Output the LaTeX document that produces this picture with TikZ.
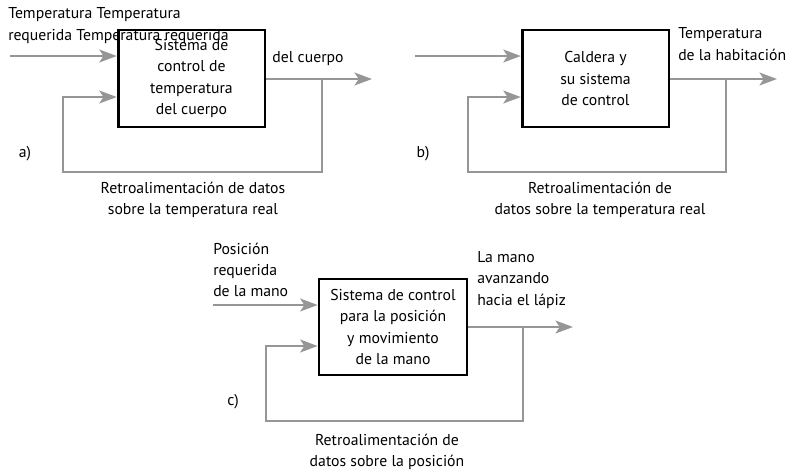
\documentclass[tikz,border=0pt]{standalone}
\usepackage{fontspec}
\setmainfont{PT Sans}
\usetikzlibrary{arrows.meta, positioning}
\definecolor{FlowGray}{RGB}{150,150,150}

\begin{document}
\begin{tikzpicture}[
  x=0.75pt, y=-0.75pt,
  every node/.style={align=center, font=\fontsize{11.8}{16}\selectfont},
  block/.style={draw=black, line width=2pt, minimum width=110pt, minimum height=72.75pt, inner sep=0pt},
  flow/.style={draw=FlowGray, line width=2.2pt, -{Stealth[length=13pt, width=9.5pt, inset=3pt]}},
  lbl/.style={anchor=west, align=left, inner sep=0pt}
  ]
\useasboundingbox (0,0) rectangle (787,472);

% a) Body temperature
\node[block] (sysa) at (191.5,78.5) {Sistema de\\control de\\temperatura\\del cuerpo};
\coordinate (a-in) at (10,56);
\coordinate (a-out) at (372,79);
\coordinate (a-tap) at (322,79);
\coordinate (a-fb) at (63,97);
\draw[flow] (a-in) -- (a-in -| sysa.west);
\draw[flow] (sysa.east |- a-out) -- (a-out);
\draw[flow] (a-tap) -- ++(0,93) -| (a-fb) -- (a-fb -| sysa.west);
\node[lbl] (a-req) at (8,25.5) {Temperatura Temperatura\\requerida Temperatura requerida};
\node (a-body) at (308,59) {del cuerpo};
\node (a-tag) at (25,154) {a)};
\node (a-retro) at (193,200) {Retroalimentación de datos\\sobre la temperatura real};

% b) Boiler
\node[block] (sysb) at (595.5,78.5) {Caldera y\\su sistema\\de control};
\coordinate (b-in) at (415,56);
\coordinate (b-out) at (777,79);
\coordinate (b-tap) at (726,79);
\coordinate (b-fb) at (468,97);
\draw[flow] (b-in) -- (b-in -| sysb.west);
\draw[flow] (sysb.east |- b-out) -- (b-out);
\draw[flow] (b-tap) -- ++(0,93) -| (b-fb) -- (b-fb -| sysb.west);
\node[lbl] (b-room) at (678,44) {Temperatura\\de la habitación};
\node (b-tag) at (423,154) {b)};
\node (b-retro) at (600,200) {Retroalimentación de\\datos sobre la temperatura real};

% c) Hand position
\node[block, minimum width=111pt, minimum height=72pt] (sysc) at (393,327) {Sistema de control\\para la posición\\y movimiento\\de la mano};
\coordinate (c-in) at (213,305);
\coordinate (c-out) at (573,327);
\coordinate (c-tap) at (523,327);
\coordinate (c-fb) at (266,346);
\draw[flow] (c-in) -- (c-in -| sysc.west);
\draw[flow] (sysc.east |- c-out) -- (c-out);
\draw[flow] (c-tap) -- ++(0,94) -| (c-fb) -- (c-fb -| sysc.west);
\node[lbl] (c-req) at (213,270) {Posición\\requerida\\de la mano};
\node[lbl] (c-hand) at (477,280) {La mano\\avanzando\\hacia el lápiz};
\node (c-tag) at (233,402) {c)};
\node (c-retro) at (387,452) {Retroalimentación de\\datos sobre la posición};
\end{tikzpicture}
\end{document}
